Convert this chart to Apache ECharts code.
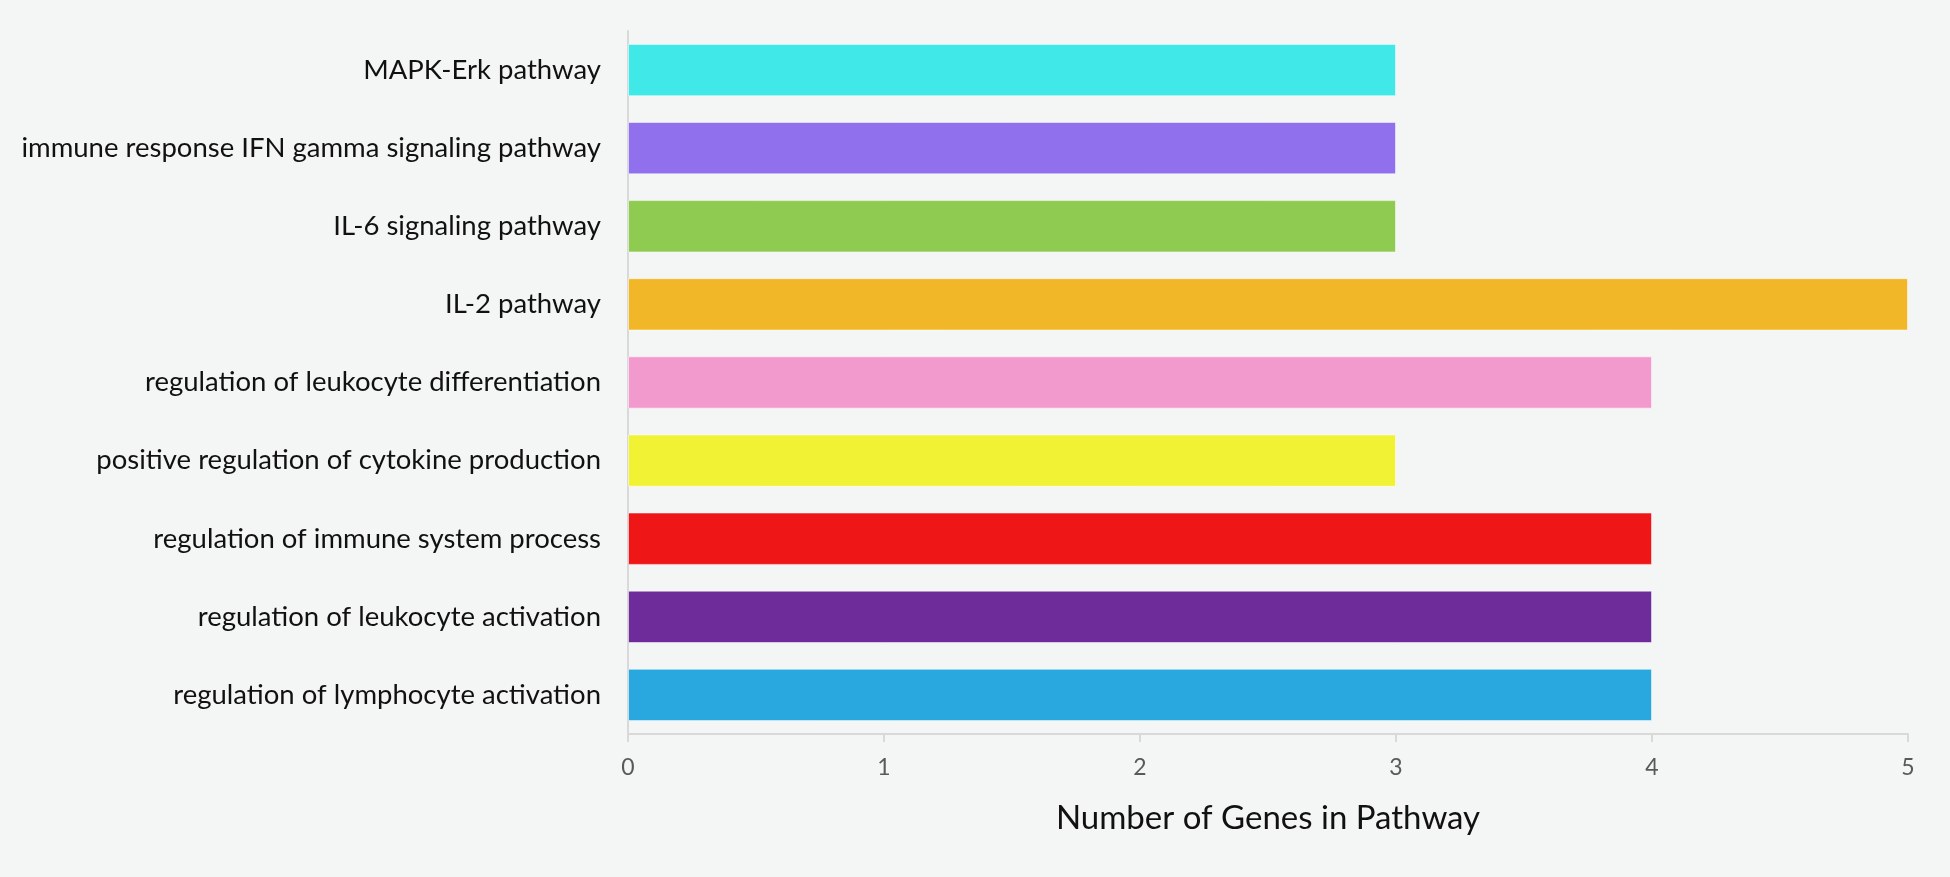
<!DOCTYPE html>
<html><head><meta charset="utf-8">
<script src="https://cdn.jsdelivr.net/npm/echarts@6/dist/echarts.min.js"></script>
<style>html,body{margin:0;padding:0;background:#f4f5f5;}#c{width:1950px;height:877px;}</style>
</head><body><div id="c"></div>
<script>
const categories = [
  "MAPK-Erk pathway",
  "immune response IFN gamma signaling pathway",
  "IL-6 signaling pathway",
  "IL-2 pathway",
  "regulation of leukocyte differentiation",
  "positive regulation of cytokine production",
  "regulation of immune system process",
  "regulation of leukocyte activation",
  "regulation of lymphocyte activation"
];
const geneCounts = [3, 3, 3, 5, 4, 3, 4, 4, 4];
const barColors = ["#40E8E8", "#9170EE", "#8FCB50", "#F2B728", "#F29ACD", "#F2F234", "#EE1616", "#6E2C9A", "#29A8E0"];
const xTicks = [0, 1, 2, 3, 4, 5];
const xTitle = "Number of Genes in Pathway";

const chart = echarts.init(document.getElementById('c'));
chart.setOption({
  backgroundColor: '#f4f5f5',
  animation: false,
  grid: {left: 628, right: 42, top: 31, bottom: 143, containLabel: false},
  xAxis: {
    type: 'value', min: xTicks[0], max: xTicks[xTicks.length - 1], interval: 1,
    name: xTitle, nameLocation: 'middle', nameGap: 68,
    nameTextStyle: {fontFamily: 'Lato', fontSize: 33, color: '#111'},
    axisLine: {show: true, lineStyle: {color: '#d9d9d9', width: 2}},
    axisTick: {show: true, length: 8, lineStyle: {color: '#d9d9d9', width: 2}},
    axisLabel: {fontFamily: 'Lato', fontSize: 23, color: '#595959', margin: 22},
    splitLine: {show: false}
  },
  yAxis: {
    type: 'category', data: categories, inverse: true,
    axisLine: {show: true, lineStyle: {color: '#d9d9d9', width: 2}},
    axisTick: {show: false},
    axisLabel: {fontFamily: 'Lato', fontSize: 27.5, color: '#111', margin: 27}
  },
  series: [{
    type: 'bar',
    data: geneCounts.map((v, i) => ({value: v, itemStyle: {color: barColors[i]}})),
    barWidth: '67%',
    itemStyle: {borderColor: 'rgba(255,255,255,0.5)', borderWidth: 1}
  }]
});
</script></body></html>
